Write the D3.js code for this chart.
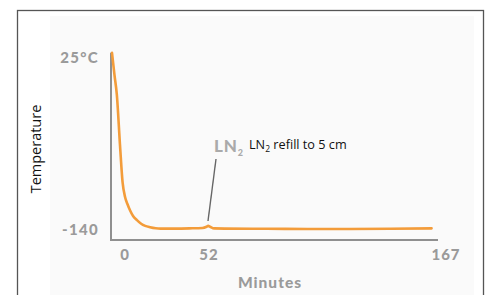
<!DOCTYPE html>
<html><head><meta charset="utf-8">
<script src="https://cdn.jsdelivr.net/npm/d3@7"></script>
<style>body{margin:0;background:#fff;}svg{display:block;}</style>
</head><body>
<svg id="chart" width="487" height="295"></svg>
<script>
// Data (minutes, temperature °C)
const minutes = [-8, -6.5, -5, -3.1, -1.5, 0, 1.5, 3.1, 5, 7.4, 10, 12.5, 15.5, 19, 22, 30, 40, 48, 50.5, 51.5, 52.5, 54.5, 60, 80, 100, 120, 140, 160];
const temps   = [29, 8, -11.5, -59, -95, -109, -116, -122, -127.5, -131.5, -135, -137, -138.3, -139.3, -139.6, -139.6, -139.4, -139, -137.8, -137, -137.8, -139.4, -139.6, -139.8, -140, -140, -139.8, -139.4];
const xTicks = [0, 52, 167];
const yTicks = [25, -140];
const yTickLabels = ["25°C", "-140"];
const annotationMinute = 52;

const svg = d3.select("#chart");
// outer frame
svg.append("rect").attr("x", 50).attr("y", 16).attr("width", 424).attr("height", 290).attr("fill", "#fafafa");
svg.append("rect").attr("x", 17.5).attr("y", 10.5).attr("width", 466).attr("height", 300)
  .attr("fill", "none").attr("stroke", "#555").attr("stroke-width", 1.3);

const x = d3.scaleLinear().domain([-8, 0, 52, 167]).range([112, 125, 209, 446]);
const y = d3.scaleLinear().domain([-140, 25]).range([229, 57]);

// axes lines
const axisColor = "#8f8f8f";
svg.append("line").attr("x1", 111).attr("x2", 111).attr("y1", y(29)).attr("y2", 240)
  .attr("stroke", axisColor).attr("stroke-width", 2);
svg.append("line").attr("x1", 110).attr("x2", 438).attr("y1", 240).attr("y2", 240)
  .attr("stroke", axisColor).attr("stroke-width", 2);

const tickFont = "Lato, 'DejaVu Sans', sans-serif";
svg.selectAll("text.xt").data(xTicks).enter().append("text")
  .attr("class", "xt").attr("x", d => x(d)).attr("y", 260)
  .attr("text-anchor", "middle").attr("font-family", tickFont).attr("font-weight", 900)
  .attr("font-size", 15).attr("letter-spacing", 1).attr("fill", "#9a9a9a").text(d => d);
svg.selectAll("text.yt").data(yTicks).enter().append("text")
  .attr("class", "yt").attr("x", 99).attr("y", d => y(d) + 5.5)
  .attr("text-anchor", "end").attr("font-family", tickFont).attr("font-weight", 900)
  .attr("font-size", 15).attr("letter-spacing", 1.3).attr("fill", "#9a9a9a").text((d, i) => yTickLabels[i]);

svg.append("text").attr("x", 270).attr("y", 288).attr("text-anchor", "middle")
  .attr("font-family", tickFont).attr("font-weight", 900).attr("font-size", 15.5)
  .attr("letter-spacing", 1).attr("fill", "#9a9a9a").text("Minutes");

svg.append("text").attr("transform", "translate(41,149) rotate(-90)").attr("text-anchor", "middle")
  .attr("font-family", "'Open Sans', sans-serif").attr("font-size", 14.5).attr("fill", "#111").text("Temperature");

// annotation
const ax = x(annotationMinute);
svg.append("line").attr("x1", ax - 1).attr("y1", 221).attr("x2", ax + 7).attr("y2", 159)
  .attr("stroke", "#666").attr("stroke-width", 1.4);
const g1 = svg.append("text").attr("x", 214).attr("y", 152).attr("font-family", tickFont)
  .attr("font-weight", 900).attr("font-size", 17).attr("letter-spacing", 0.8).attr("fill", "#aaa");
g1.append("tspan").text("LN");
g1.append("tspan").attr("font-size", 9).attr("dy", 4).text("2");
const g2 = svg.append("text").attr("x", 249).attr("y", 149).attr("font-family", "'Open Sans', sans-serif")
  .attr("font-size", 12.7).attr("fill", "#111");
g2.append("tspan").text("LN");
g2.append("tspan").attr("font-size", 8.5).attr("dy", 3).text("2");
g2.append("tspan").attr("dy", -3).text(" refill to 5 cm");

// curve
const data = minutes.map((m, i) => ({m, t: temps[i]}));
svg.append("path").datum(data)
  .attr("d", d3.line().x(d => x(d.m)).y(d => y(d.t)).curve(d3.curveMonotoneX))
  .attr("fill", "none").attr("stroke", "#f39c3a").attr("stroke-width", 2.6)
  .attr("stroke-linejoin", "round").attr("stroke-linecap", "round");
</script>
</body></html>
